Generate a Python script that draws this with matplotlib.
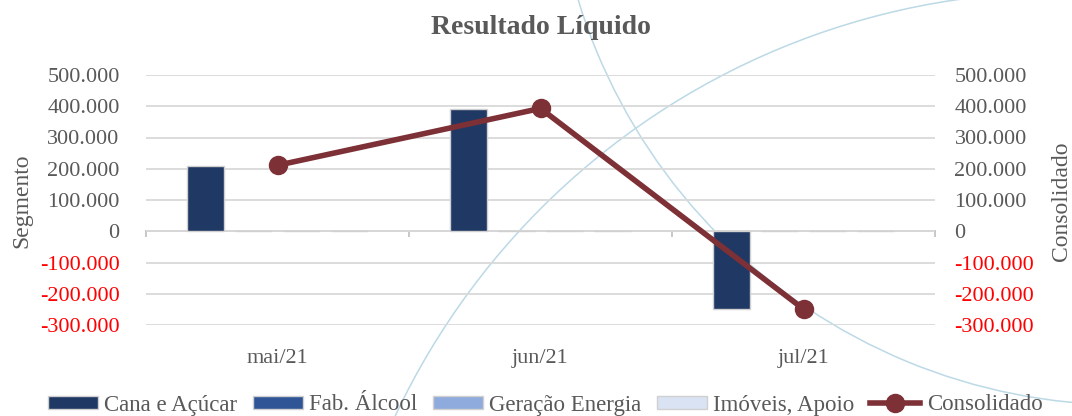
import matplotlib
matplotlib.use('Agg')
import matplotlib.pyplot as plt
from matplotlib.patches import Arc
import numpy as np

# --- data ---
months = ['mai/21', 'jun/21', 'jul/21']
segments = ['Cana e Açúcar', 'Fab. Álcool', 'Geração Energia', 'Imóveis, Apoio']
cana = [209000, 391000, -248000]
fab_alcool = [0, 0, 0]
geracao = [1500, 1500, 1500]
imoveis = [1500, 1500, 1500]
consolidado = [211000, 393000, -249000]
yticks = [-300000, -200000, -100000, 0, 100000, 200000, 300000, 400000, 500000]

seg_values = [cana, fab_alcool, geracao, imoveis]
seg_colors = ['#203864', '#2F5597', '#8FAADC', '#DAE3F3']
line_color = '#7D3035'
text_color = '#595959'
serif = ['Liberation Serif', 'DejaVu Serif']

plt.rcParams['font.family'] = serif

fig = plt.figure(figsize=(10.72, 4.16), dpi=100)
ax = fig.add_axes([146 / 1072, 1 - 325 / 416, 789 / 1072, 250 / 416])
ax.set_facecolor('none')

# decorative background arcs
for cx, cy, r in [(1126, -168, 573), (1063, 730, 738)]:
    arc = Arc((cx / 1072, 1 - cy / 416), 2 * r / 1072, 2 * r / 416,
              transform=fig.transFigure, color='#BCD9E6', lw=1.1, zorder=-5)
    fig.add_artist(arc)

x = np.arange(len(months))
pitch = 0.183
width = 0.14
for i, (name, vals, col) in enumerate(zip(segments, seg_values, seg_colors)):
    ax.bar(x + (i - 1.5) * pitch, vals, width, color=col, edgecolor='#D0D0D0',
           linewidth=1.0, label=name, zorder=3)

ax.set_xlim(-0.5, 2.5)
ax.set_ylim(-300000, 500000)
ax.set_yticks(yticks)


def fmt(v):
    return f"{v:,.0f}".replace(',', '.')


ax.set_yticklabels([fmt(v) for v in yticks])
ax.yaxis.grid(True, color='#D9D9D9', lw=1.3)
ax.set_axisbelow(True)
for s in ax.spines.values():
    s.set_visible(False)
ax.tick_params(axis='y', length=0, pad=19, labelsize=16, labelcolor=text_color)
ax.set_xticks(x)
ax.set_xticklabels(months)
ax.tick_params(axis='x', length=0, pad=17, labelsize=16, labelcolor=text_color)

# category axis at zero
sec = ax.secondary_xaxis(300000 / 800000)
sec.set_xticks([-0.5, 0.5, 1.5, 2.5])
sec.set_xticklabels([])
sec.tick_params(axis='x', length=4, width=1.2, color='#BFBFBF', direction='out')
sec.spines['bottom'].set_color('#BFBFBF')
sec.spines['bottom'].set_linewidth(1.3)

# consolidated line on the right axis
ax2 = ax.twinx()
ax2.plot(x, consolidado, color=line_color, lw=4, marker='o', markersize=13,
         label='Consolidado', zorder=5)
ax2.set_ylim(-300000, 500000)
ax2.set_yticks(yticks)
ax2.set_yticklabels([fmt(v) for v in yticks])
for s in ax2.spines.values():
    s.set_visible(False)
ax2.tick_params(axis='y', length=0, pad=14, labelsize=16, labelcolor=text_color)

for a in (ax, ax2):
    for lbl, v in zip(a.get_yticklabels(), yticks):
        if v < 0:
            lbl.set_color('#FF0000')

fig.text(541 / 1072, 1 - 28 / 416, 'Resultado Líquido', ha='center', va='center',
         fontsize=20, fontweight='bold', color=text_color)
fig.text(22 / 1072, 1 - 201 / 416, 'Segmento', rotation=90, ha='center', va='center',
         fontsize=17, color=text_color)
fig.text(1062 / 1072, 1 - 201 / 416, 'Consolidado', rotation=90, ha='center', va='center',
         fontsize=17, color=text_color)

h1, l1 = ax.get_legend_handles_labels()
h2, l2 = ax2.get_legend_handles_labels()
fig.legend(h1 + h2, l1 + l2, loc='center', bbox_to_anchor=(0.5084, 1 - 405 / 416),
           ncol=5, frameon=False, prop={'family': serif, 'size': 16.5},
           handlelength=2.18, handleheight=0.54,
           handletextpad=0.28, columnspacing=0.68, labelcolor=text_color,
           borderaxespad=0, borderpad=0)

fig.savefig('out.png', dpi=100)
